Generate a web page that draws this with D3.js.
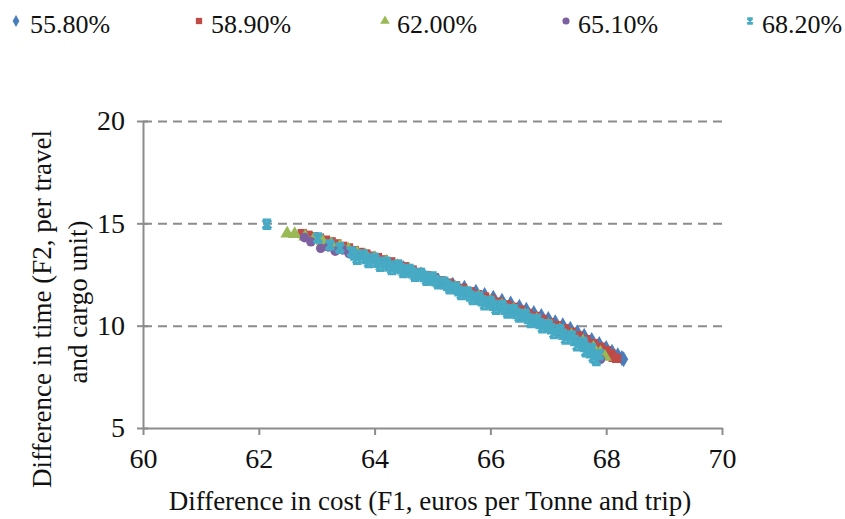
<!DOCTYPE html>
<html>
<head>
<script src="https://d3js.org/d3.v7.min.js"></script>
<style>
  body { margin: 0; background: #fff; }
  svg text { font-family: "Liberation Serif", "Times New Roman", serif; fill: #111; }
  .axis .domain, .axis line { stroke: #8c8c8c; stroke-width: 2; }
  .gridlines line { stroke: #8c8c8c; stroke-width: 2; stroke-dasharray: 9,6; }
  .gridlines .domain { stroke: none; }
</style>
</head>
<body>
<svg id="chart" width="845" height="519"></svg>
<script>
// series labels (legend)
const seriesNames = ["55.80%", "58.90%", "62.00%", "65.10%", "68.20%"];
const xTicks = [60, 62, 64, 66, 68, 70];
const yTicks = [5, 10, 15, 20];

// values: [F1 cost, F2 time]
const blue558 = [
  [63.6,13.6],[63.9,13.35],[64.2,13.1],[64.5,12.8],[64.8,12.5],[65.1,12.2],[65.35,12.0],
  [65.55,11.85],[65.75,11.65],[65.9,11.5],[66.05,11.36],[66.2,11.22],[66.35,11.08],[66.5,10.92],
  [66.62,10.78],[66.75,10.62],[66.88,10.47],[67.0,10.32],[67.12,10.17],[67.25,10.02],[67.38,9.85],
  [67.5,9.68],[67.62,9.5],[67.75,9.3],[67.88,9.1],[68.0,8.9],[68.1,8.72],[68.2,8.55],[68.27,8.42],[68.3,8.36]
];
const red589 = [
  [62.75,14.5],[62.85,14.42],[62.95,14.35],[63.05,14.28],[63.15,14.18],[63.25,14.1],[63.35,14.0],
  [63.45,13.88],[63.55,13.8],[63.65,13.67],[63.75,13.58],[63.85,13.5],[63.95,13.4],[64.05,13.33],
  [64.15,13.22],[64.28,13.12],[64.4,13.0],[64.52,12.88],[64.65,12.72],[64.78,12.6],[64.9,12.45],
  [65.02,12.35],[65.15,12.2],[65.28,12.08],[65.4,11.95],[65.52,11.82],[65.65,11.66],[65.78,11.52],
  [65.9,11.4],[66.02,11.28],[66.15,11.15],[66.28,11.02],[66.4,10.9],[66.52,10.76],[66.65,10.6],
  [66.78,10.45],[66.9,10.3],[67.02,10.15],[67.15,10.0],[67.28,9.85],[67.4,9.68],[67.52,9.5],
  [67.65,9.32],[67.78,9.12],[67.9,8.95],[68.0,8.78],[68.08,8.62],[68.12,8.45],[68.18,8.4]
];
const green620 = [
  [62.49,14.5],[62.62,14.47],[62.8,14.35],[62.95,14.22],[63.1,14.12],[63.25,13.98],[63.4,13.88],
  [63.55,13.72],[63.7,13.55],[63.85,13.42],[64.0,13.3],[64.2,13.12],[64.4,12.92],[64.6,12.72],
  [64.8,12.48],[65.0,12.25],[65.2,12.05],[65.4,11.85],[65.6,11.62],[65.8,11.4],[66.0,11.18],
  [66.2,10.98],[66.4,10.76],[66.6,10.52],[66.8,10.28],[67.0,10.02],[67.2,9.78],[67.4,9.52],
  [67.6,9.22],[67.78,8.92],[67.9,8.68],[67.98,8.48]
];
const purple651 = [
  [62.79,14.3],[62.9,14.1],[63.07,13.78],[63.2,13.85],[63.32,13.64],[63.45,13.7],[63.56,13.52],
  [63.75,13.45],[63.95,13.28],[64.15,13.08],[64.35,12.9],[64.55,12.7],[64.75,12.46],[64.95,12.24],
  [65.15,12.0],[65.35,11.8],[65.55,11.58],[65.75,11.34],[65.95,11.1],[66.15,10.9],[66.35,10.68],
  [66.55,10.44],[66.75,10.2],[66.95,9.95],[67.15,9.7],[67.35,9.45],[67.55,9.15],[67.72,8.82],
  [67.82,8.55],[67.9,8.35]
];
const cyan682 = [
  [62.14,14.95],[63.02,14.28],[63.23,13.94],[63.4,13.8],
  [63.6,13.6],[63.7,13.25],[63.8,13.45],[63.9,13.08],[64.0,13.28],[64.1,12.9],[64.2,13.1],[64.3,12.75],
  [64.4,12.95],[64.5,12.6],[64.6,12.75],[64.7,12.42],[64.8,12.55],[64.9,12.22],[65.0,12.38],[65.1,12.05],
  [65.2,12.12],[65.3,11.8],[65.4,11.88],[65.5,11.52],[65.6,11.65],[65.7,11.28],[65.8,11.4],[65.9,11.02],
  [66.0,11.18],[66.1,10.8],[66.2,10.98],[66.3,10.62],[66.4,10.78],[66.5,10.42],[66.6,10.55],[66.7,10.15],
  [66.8,10.3],[66.9,9.9],[67.0,10.05],[67.1,9.62],[67.2,9.8],[67.3,9.35],[67.4,9.5],[67.5,9.02],
  [67.6,9.18],[67.65,8.72],[67.75,8.88],[67.78,8.45],[67.83,8.3],[67.88,8.58],
  [63.65,13.45],[63.85,13.28],[64.05,13.1],[64.25,12.92],[64.45,12.78],[64.65,12.58],[64.85,12.4],
  [65.05,12.2],[65.25,11.98],[65.45,11.7],[65.65,11.45],[65.85,11.22],[66.05,11.0],[66.25,10.8],
  [66.45,10.6],[66.65,10.35],[66.85,10.1],[67.05,9.85],[67.25,9.58],[67.45,9.28],[67.62,8.98],[67.72,8.68]
];

const seriesData = [blue558, red589, green620, purple651, cyan682];
const colors = ["#4a7ebb", "#be4b48", "#98b954", "#7d60a0", "#46aac5"];

const svg = d3.select("#chart");
const x = d3.scaleLinear().domain([60, 70]).range([143, 722]);
const y = d3.scaleLinear().domain([5, 20]).range([428, 121]);

// cross-with-bars marker used by Excel for the 5th series
const starSym = {
  draw(ctx, size) {
    const r = Math.sqrt(size) / 2;
    ctx.moveTo(-r, -r); ctx.lineTo(r, r);
    ctx.moveTo(r, -r); ctx.lineTo(-r, r);
    ctx.moveTo(-r, -r); ctx.lineTo(r, -r);
    ctx.moveTo(-r, r); ctx.lineTo(r, r);
  }
};
const symTypes = [d3.symbolDiamond, d3.symbolSquare, d3.symbolTriangle, d3.symbolCircle, starSym];
const symSizes = [75, 85, 80, 72, 72];

// gridlines
svg.append("g")
  .attr("class", "gridlines")
  .attr("transform", "translate(143,0)")
  .call(d3.axisLeft(y).tickValues([10, 15, 20]).tickSize(-579).tickFormat(""));

// axes
const yAxis = svg.append("g")
  .attr("class", "axis")
  .attr("transform", "translate(143,0)")
  .call(d3.axisLeft(y).tickValues(yTicks).tickSizeInner(6).tickSizeOuter(0).tickPadding(12));
yAxis.selectAll(".tick line").attr("x1", 5);
yAxis.selectAll("text").style("font-size", "28px");

const xAxis = svg.append("g")
  .attr("class", "axis")
  .attr("transform", "translate(0,428)")
  .call(d3.axisBottom(x).tickValues(xTicks).tickSizeInner(7).tickSizeOuter(0).tickPadding(13));
xAxis.selectAll("text").style("font-size", "28px");

// points
seriesData.forEach((pts, i) => {
  const g = svg.append("g");
  pts.forEach(d => {
    const p = g.append("path")
      .attr("d", d3.symbol().type(symTypes[i]).size(symSizes[i])())
      .attr("transform", "translate(" + x(d[0]) + "," + y(d[1]) + ")");
    if (i === 4) {
      p.attr("fill", colors[i]).attr("fill-opacity", 0.5).attr("stroke", colors[i]).attr("stroke-width", 3);
    } else {
      p.attr("fill", colors[i]);
    }
  });
});

// legend
const legendX = [16, 199, 385, 566, 750];
seriesNames.forEach((name, i) => {
  const p = svg.append("path")
    .attr("d", d3.symbol().type(symTypes[i]).size(i === 4 ? 30 : 40)())
    .attr("transform", "translate(" + legendX[i] + ",21)");
  if (i === 4) p.attr("fill", "none").attr("stroke", colors[i]).attr("stroke-width", 2);
  else p.attr("fill", colors[i]);
  svg.append("text")
    .attr("x", legendX[i] + (i === 0 ? 14 : 12))
    .attr("y", 33)
    .style("font-size", "26px")
    .text(name);
});

// axis titles
svg.append("text")
  .attr("x", 430).attr("y", 510)
  .attr("text-anchor", "middle")
  .style("font-size", "27px")
  .text("Difference in cost (F1, euros per Tonne and trip)");

svg.append("text")
  .attr("transform", "translate(51,309) rotate(-90)")
  .attr("text-anchor", "middle")
  .style("font-size", "27px")
  .text("Difference in time (F2, per travel");
svg.append("text")
  .attr("transform", "translate(87,302) rotate(-90)")
  .attr("text-anchor", "middle")
  .style("font-size", "27px")
  .text("and cargo unit)");
</script>
</body>
</html>
